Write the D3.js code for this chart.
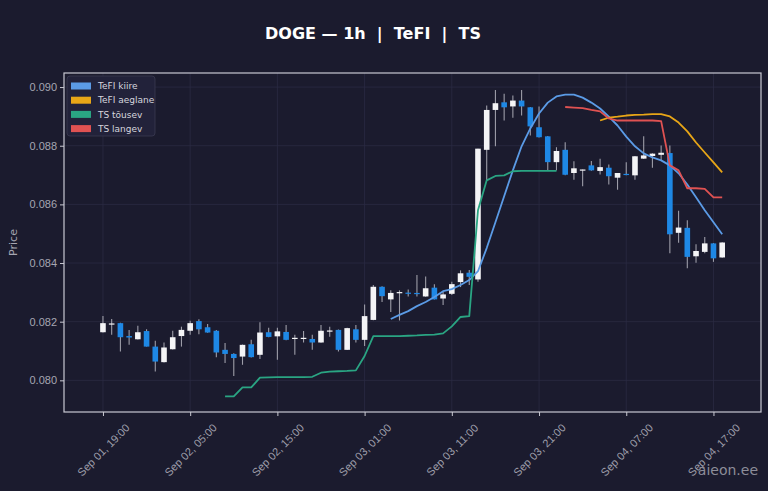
<!DOCTYPE html>
<html>
<head>
<meta charset="utf-8">
<script src="https://cdn.jsdelivr.net/npm/d3@7"></script>
<style>
  html, body { margin: 0; padding: 0; background: #1b1b2e; }
  svg { display: block; font-family: "DejaVu Sans", sans-serif; }
</style>
</head>
<body>
<svg id="chart" width="768" height="491"></svg>
<script>
// Hourly DOGE candles, Sep 01 19:00 -> Sep 04 18:00
const startTime = '2024-09-01T19:00';
const opens  = [0.08164,0.08190,0.08195,0.08151,0.08140,0.08168,0.08115,0.08062,0.08106,0.08151,0.08169,0.08202,0.08181,0.08169,0.08104,0.08090,0.08081,0.08123,0.08087,0.08164,0.08150,0.08165,0.08142,0.08143,0.08141,0.08129,0.08168,0.08172,0.08104,0.08174,0.08138,0.08206,0.08319,0.08276,0.08299,0.08299,0.08298,0.08286,0.08316,0.08279,0.08295,0.08335,0.08367,0.08344,0.08786,0.08922,0.08948,0.08934,0.08954,0.08931,0.08863,0.08832,0.08744,0.08786,0.08707,0.08717,0.08733,0.08714,0.08725,0.08691,0.08704,0.08699,0.08756,0.08765,0.08769,0.08775,0.08503,0.08520,0.08423,0.08438,0.08467,0.08419];
const highs  = [0.08219,0.08209,0.08196,0.08172,0.08186,0.08174,0.08135,0.08129,0.08169,0.08183,0.08203,0.08208,0.08192,0.08172,0.08127,0.08092,0.08122,0.08138,0.08198,0.08179,0.08179,0.08189,0.08155,0.08168,0.08155,0.08189,0.08183,0.08173,0.08179,0.08189,0.08259,0.08325,0.08321,0.08307,0.08307,0.08310,0.08359,0.08354,0.08328,0.08301,0.08336,0.08375,0.08376,0.08790,0.08937,0.08990,0.08977,0.08971,0.08990,0.08932,0.08934,0.08833,0.08795,0.08812,0.08747,0.08719,0.08748,0.08756,0.08736,0.08707,0.08744,0.08765,0.08832,0.08774,0.08801,0.08801,0.08578,0.08546,0.08464,0.08489,0.08468,0.08471];
const lows   = [0.08163,0.08155,0.08098,0.08121,0.08139,0.08115,0.08030,0.08061,0.08105,0.08115,0.08155,0.08157,0.08162,0.08079,0.08059,0.08015,0.08053,0.08078,0.08073,0.08147,0.08070,0.08137,0.08087,0.08129,0.08104,0.08128,0.08149,0.08098,0.08103,0.08129,0.08117,0.08205,0.08267,0.08233,0.08204,0.08286,0.08286,0.08285,0.08276,0.08257,0.08291,0.08318,0.08325,0.08336,0.08682,0.08798,0.08886,0.08895,0.08903,0.08835,0.08828,0.08716,0.08716,0.08699,0.08684,0.08662,0.08715,0.08702,0.08668,0.08650,0.08699,0.08684,0.08755,0.08725,0.08750,0.08433,0.08469,0.08382,0.08401,0.08433,0.08404,0.08418];
const closes = [0.08195,0.08194,0.08147,0.08146,0.08164,0.08115,0.08064,0.08112,0.08147,0.08172,0.08195,0.08174,0.08163,0.08095,0.08090,0.08076,0.08121,0.08079,0.08163,0.08148,0.08167,0.08138,0.08145,0.08145,0.08129,0.08169,0.08170,0.08104,0.08178,0.08138,0.08219,0.08319,0.08287,0.08298,0.08301,0.08298,0.08296,0.08314,0.08276,0.08293,0.08328,0.08365,0.08353,0.08790,0.08922,0.08945,0.08931,0.08954,0.08934,0.08866,0.08829,0.08744,0.08782,0.08701,0.08723,0.08719,0.08716,0.08727,0.08696,0.08707,0.08701,0.08764,0.08767,0.08773,0.08776,0.08498,0.08521,0.08421,0.08441,0.08467,0.08416,0.08470];

// indicator lines: first candle index + values
const tefiFastStart = 33;
const tefiFast = [0.08209,0.08223,0.08236,0.08253,0.08267,0.08284,0.08304,0.08311,0.08325,0.08342,0.08372,0.08451,0.08539,0.08628,0.08716,0.08798,0.08859,0.08910,0.08947,0.08968,0.08974,0.08974,0.08964,0.08947,0.08927,0.08899,0.08869,0.08831,0.08798,0.08774,0.08760,0.08750,0.08733,0.08706,0.08668,0.08624,0.08580,0.08539,0.08498];
const tefiSlowStart = 57;
const tefiSlow = [0.08886,0.08896,0.08899,0.08903,0.08905,0.08906,0.08908,0.08908,0.08900,0.08879,0.08849,0.08811,0.08777,0.08743,0.08709];
const tsUpStart = 14;
const tsUp = [0.07945,0.07945,0.07976,0.07976,0.08009,0.08010,0.08011,0.08011,0.08011,0.08011,0.08012,0.08026,0.08030,0.08031,0.08032,0.08034,0.08083,0.08151,0.08151,0.08151,0.08151,0.08152,0.08153,0.08155,0.08156,0.08160,0.08184,0.08216,0.08219,0.08580,0.08682,0.08697,0.08699,0.08713,0.08714,0.08714,0.08714,0.08714,0.08714];
const tsDownStart = 53;
const tsDown = [0.08932,0.08930,0.08928,0.08922,0.08917,0.08893,0.08886,0.08886,0.08886,0.08886,0.08886,0.08884,0.08733,0.08716,0.08655,0.08655,0.08653,0.08624,0.08624];

const yTicks = [0.080, 0.082, 0.084, 0.086, 0.088, 0.090];
const xTickLabels = ['2024-09-01T19:00','2024-09-02T05:00','2024-09-02T15:00','2024-09-03T01:00','2024-09-03T11:00','2024-09-03T21:00','2024-09-04T07:00','2024-09-04T17:00'];

const series = [
  { name: 'TeFI kiire',   start: tefiFastStart, values: tefiFast, color: '#5b9be6' },
  { name: 'TeFI aeglane', start: tefiSlowStart, values: tefiSlow, color: '#e8a617' },
  { name: 'TS tõusev',    start: tsUpStart,     values: tsUp,     color: '#2aa583' },
  { name: 'TS langev',    start: tsDownStart,   values: tsDown,   color: '#e05252' },
];

const parse = d3.utcParse('%Y-%m-%dT%H:%M');
const t0 = parse(startTime);
const timeAt = i => d3.utcHour.offset(t0, i);

const candles = opens.map((o, i) => ({
  t: timeAt(i), o, h: highs[i], l: lows[i], c: closes[i]
}));

const svg = d3.select('#chart');
const W = 768, H = 491;
const plot = { left: 64, right: 761, top: 73, bottom: 412 };

svg.append('rect').attr('width', W).attr('height', H).attr('fill', '#1b1b2e');

const x = d3.scaleUtc()
  .domain([d3.utcMinute.offset(t0, -268), d3.utcMinute.offset(timeAt(candles.length - 1), 267)])
  .range([plot.left, plot.right]);

const y = d3.scaleLinear()
  .domain([0.07892, 0.09048])
  .range([plot.bottom, plot.top]);

const xTicks = xTickLabels.map(parse);
const fmt = d3.utcFormat('%b %d, %H:%M');

// grid
const grid = svg.append('g').attr('stroke', '#2b2b42').attr('stroke-width', 0.8);
grid.selectAll('.gx').data(xTicks).join('line')
  .attr('x1', d => x(d)).attr('x2', d => x(d))
  .attr('y1', plot.top).attr('y2', plot.bottom);
grid.selectAll('.gy').data(yTicks).join('line')
  .attr('x1', plot.left).attr('x2', plot.right)
  .attr('y1', d => y(d)).attr('y2', d => y(d));

// candles
const bw = 5.6;
const cg = svg.append('g');
cg.selectAll('line.wick').data(candles).join('line')
  .attr('class', 'wick')
  .attr('x1', d => x(d.t)).attr('x2', d => x(d.t))
  .attr('y1', d => y(d.h)).attr('y2', d => y(d.l))
  .attr('stroke', '#9d9da8').attr('stroke-width', 1.1);
cg.selectAll('rect').data(candles).join('rect')
  .attr('x', d => x(d.t) - bw / 2)
  .attr('width', bw)
  .attr('y', d => y(Math.max(d.o, d.c)))
  .attr('height', d => Math.max(1.2, Math.abs(y(d.o) - y(d.c))))
  .attr('fill', d => d.c >= d.o ? '#f4f4f6' : '#1e88e5');

// indicator lines
const line = d3.line().x(d => x(d.t)).y(d => y(d.v)).curve(d3.curveLinear);
series.forEach(s => {
  const pts = s.values.map((v, k) => ({ t: timeAt(s.start + k), v }));
  svg.append('path').datum(pts)
    .attr('d', line)
    .attr('fill', 'none')
    .attr('stroke', s.color)
    .attr('stroke-width', 1.8)
    .attr('stroke-linejoin', 'round');
});

// frame
svg.append('rect')
  .attr('x', plot.left).attr('y', plot.top)
  .attr('width', plot.right - plot.left).attr('height', plot.bottom - plot.top)
  .attr('fill', 'none').attr('stroke', '#c9c9d2').attr('stroke-width', 1.2);

// axes
const xAxis = svg.append('g')
  .attr('transform', `translate(0,${plot.bottom})`)
  .call(d3.axisBottom(x).tickValues(xTicks).tickFormat(fmt).tickSize(4).tickSizeOuter(0));
xAxis.select('.domain').remove();
xAxis.selectAll('line').attr('stroke', '#c9c9d2');
xAxis.selectAll('text')
  .attr('fill', '#9f9fab')
  .style('font-size', '11px')
  .attr('text-anchor', 'middle')
  .attr('x', 0).attr('y', 0)
  .attr('dy', '0.35em')
  .attr('transform', 'translate(0,38) rotate(-45)');

const yAxis = svg.append('g')
  .attr('transform', `translate(${plot.left},0)`)
  .call(d3.axisLeft(y).tickValues(yTicks).tickFormat(d3.format('.3f')).tickSize(4).tickSizeOuter(0));
yAxis.select('.domain').remove();
yAxis.selectAll('line').attr('stroke', '#c9c9d2');
yAxis.selectAll('text').attr('fill', '#a6a6b2').style('font-size', '11px');

svg.append('text')
  .attr('transform', `translate(17,${(plot.top + plot.bottom) / 2}) rotate(-90)`)
  .attr('text-anchor', 'middle')
  .attr('fill', '#a6a6b2')
  .style('font-size', '11px')
  .text('Price');

// title
svg.append('text')
  .attr('x', 373).attr('y', 39)
  .attr('text-anchor', 'middle')
  .attr('fill', '#ffffff')
  .style('font-size', '16px')
  .style('font-weight', 'bold')
  .style('white-space', 'pre')
  .text('DOGE — 1h  |  TeFI  |  TS');

// legend
const lg = svg.append('g').attr('transform', 'translate(67,76)');
lg.append('rect').attr('width', 88).attr('height', 60).attr('rx', 3)
  .attr('fill', '#22223a').attr('stroke', '#3a3a52').attr('stroke-width', 0.8);
series.forEach((s, i) => {
  const row = lg.append('g').attr('transform', `translate(4,${10 + i * 14.2})`);
  row.append('rect').attr('x', 0).attr('y', -3.5).attr('width', 20).attr('height', 7).attr('fill', s.color);
  row.append('text').attr('x', 27).attr('y', 0).attr('dy', '0.35em')
    .attr('fill', '#d6d6de').style('font-size', '9px').text(s.name);
});

// watermark
svg.append('text')
  .attr('x', 758).attr('y', 475)
  .attr('text-anchor', 'end')
  .attr('fill', '#8d8d99')
  .style('font-size', '14px')
  .text('aieon.ee');
</script>
</body>
</html>
